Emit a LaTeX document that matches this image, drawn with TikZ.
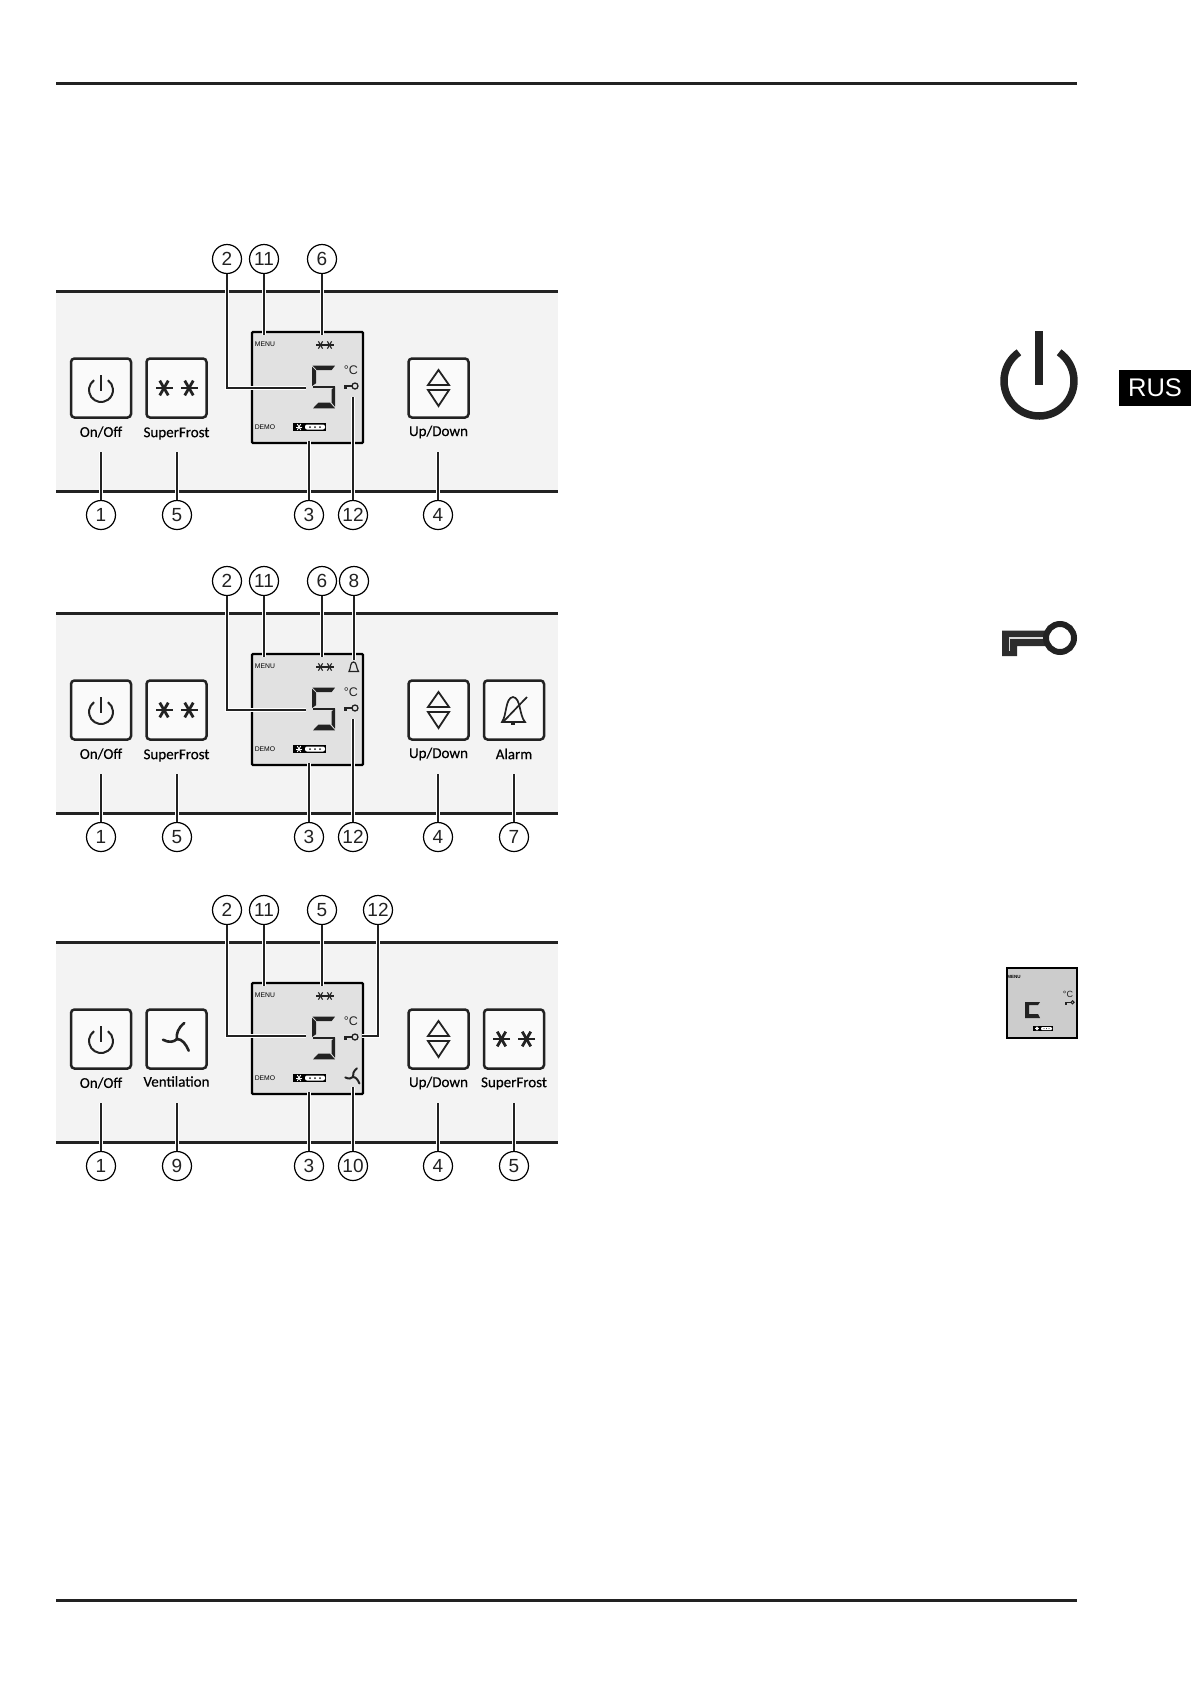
\documentclass[tikz,border=0pt]{standalone}
\usepackage{fontspec}
\setmainfont{Liberation Sans}
\newfontfamily\lblfont[FakeBold=0.35]{Carlito}
\definecolor{panelfill}{HTML}{F3F3F3}
\definecolor{lcdfill}{HTML}{E1E1E1}
\definecolor{ink}{HTML}{222222}
\definecolor{btnfill}{HTML}{FAFAFA}
\tikzset{
  rulebar/.style={line width=3pt,draw=ink},
  panelbar/.style={line width=3pt,draw=ink},
  numcirc/.style={circle,draw=black,line width=1.2pt,minimum size=29pt,inner sep=0pt,fill=white,text=ink,font=\fontsize{19}{19}\selectfont},
  leader/.style={draw=ink,line width=1.4pt,preaction={draw=white,line width=4pt}},
  btnbox/.style={rectangle,draw=ink,line width=2.5pt,rounded corners=3.5pt,minimum width=60pt,minimum height=59pt,inner sep=0pt,fill=btnfill},
  lcdbox/.style={rectangle,draw=black,line width=2.2pt,rounded corners=1pt,minimum width=111pt,minimum height=111pt,inner sep=0pt,fill=lcdfill},
  btnlabel/.style={inner sep=0pt,text=black,font=\lblfont\fontsize{15}{15}\selectfont},
  lcdtext/.style={inner sep=0pt,text=black,font=\fontsize{6.8}{7}\selectfont},
  icon/.style={draw=ink,line width=1.8pt},
  lcdseg/.style={fill=ink,draw=none}
}
% local helper macros
\newcommand{\numcall}[4]{\node[numcirc] (#1) at (#2,#3) {#4};}
\newcommand{\snowic}[5]{\foreach \aa in {0,60,120}{\draw[draw=#5,line width=#4pt] (#1,#2) ++(\aa:#3pt) -- ++(\aa+180:2*#3pt);}}
\newcommand{\powericon}[6]{\draw[draw=ink,line width=#4pt] (#1,#2) ++(125:#3pt) arc (125:415:#3pt);
  \draw[draw=ink,line width=#6pt] (#1,#2-#3-#5) -- (#1,#2+#5/3);}
\newcommand{\updown}[2]{%
  \draw[icon,line join=miter] (#1,#2-18) -- (#1+10.5,#2-3) -- (#1-10.5,#2-3) -- cycle;
  \draw[icon,line join=miter] (#1,#2+18) -- (#1+10.5,#2+2) -- (#1-10.5,#2+2) -- cycle;}
\newcommand{\fanic}[4]{\begin{scope}[shift={(#1,#2)},scale=#3]
  \draw[draw=ink,line width=#4pt,line cap=round] (-14,.7) .. controls (-8,4) and (-3,3) .. (0,0);
  \draw[draw=ink,line width=#4pt,line cap=round] (7.3,-16) .. controls (1,-11) and (-1,-5) .. (0,0);
  \draw[draw=ink,line width=#4pt,line cap=round] (11.7,11.7) .. controls (9,5) and (5,0) .. (0,0);
  \end{scope}}
% LCD contents, in the local coordinates of panel 1
\newcommand{\lcdcontent}{%
  \node[lcdtext] (menutext) at (265,344.5) {MENU};
  \node[lcdtext] (demotext) at (265,427) {DEMO};
  \snowic{320.5}{345}{4.2}{1.1}{ink}
  \snowic{329.5}{345}{4.2}{1.1}{ink}
  % digit 5
  \fill[lcdseg] (312.7,365.7) -- (335,365.7) -- (331.7,370) -- (316.7,370) -- cycle;
  \fill[lcdseg] (312,366.7) -- (316,370.7) -- (316,383.3) -- (312,386) -- cycle;
  \fill[lcdseg] (313,386) -- (335,386) -- (335,387.6) -- (313,387.6) -- cycle;
  \fill[lcdseg] (335,386.7) -- (335,406.7) -- (331.7,402.7) -- (331.7,389.3) -- cycle;
  \fill[lcdseg] (313,408.3) -- (335,408.3) -- (330,402.7) -- (318.3,402.7) -- cycle;
  % battery
  \fill[black] (293,423) rectangle (326,431);
  \snowic{299}{427}{3.4}{.9}{white}
  \fill[white,rounded corners=2pt] (305,424.5) rectangle (325,429.5);
  \fill[ink] (310,427) circle[radius=1pt] (315,427) circle[radius=1pt] (320,427) circle[radius=1pt];
  % degree C
  \node[inner sep=0pt,text=ink,font=\fontsize{12.5}{13}\selectfont] (degc) at (351,370) {°C};
}
\newcommand{\lcdkey}[3]{%
  \draw[draw=ink,line width=1.3pt] (#1+11,#2) circle[radius=#3pt];
  \fill[ink] (#1,#2-1.5) rectangle (#1+8.5,#2+.5);
  \fill[ink] (#1,#2-1.5) rectangle (#1+3,#2+3);
}
\newcommand{\commonpanel}[1]{%
  \fill[panelfill] (56,291) rectangle (558,491);
  \draw[panelbar] (56,291) -- (558,291);
  \draw[panelbar] (56,491) -- (558,491);
  \node[btnbox] (#1onbtn) at (101,388) {};
  \node[btnlabel] (#1onlbl) at (101,432) {On/Off};
  \powericon{101}{390}{12}{2}{3}{2}
  \node[btnbox] (#1updown) at (438.5,388) {};
  \node[btnlabel] (#1uplbl) at (438.5,432) {Up/Down};
  \updown{438.5}{388}
  \node[lcdbox] (#1lcd) at (307.5,387.5) {};
  \lcdcontent
  \lcdkey{344}{386}{3}
}
\begin{document}
\begin{tikzpicture}[x=1pt,y=-1pt]
\useasboundingbox (0,0) rectangle (1191,1684);
\fill[white] (0,0) rectangle (1191,1684);
\coordinate (rtl) at (56,83); \coordinate (rtr) at (1077,83);
\coordinate (rbl) at (56,1600); \coordinate (rbr) at (1077,1600);
\draw[rulebar] (rtl) -- (rtr);
\draw[rulebar] (rbl) -- (rbr);

% ---------- panel 1
\begin{scope}
\commonpanel{a}
\node[btnbox] (asf) at (176.5,388) {};
\node[btnlabel] (asflbl) at (176.5,433.5) {SuperFrost};
\snowic{164}{388}{8.5}{2.8}{ink}\snowic{189}{388}{8.5}{2.8}{ink}
\numcall{a2}{227}{259}{2}\numcall{a11}{264}{259}{11}\numcall{a6}{322}{259}{6}
\numcall{a1}{101}{515}{1}\numcall{a5}{177}{515}{5}\numcall{a3}{309}{515}{3}\numcall{a12}{353}{515}{12}\numcall{a4}{438}{515}{4}
\coordinate (ae2) at (306,388); \coordinate (ae11) at (264,335); \coordinate (ae6) at (322,335);
\coordinate (ae1) at (101,452); \coordinate (ae5) at (177,452); \coordinate (ae3) at (309,441);
\coordinate (ae12) at (353,397); \coordinate (ae4) at (438,452);
\draw[leader] (a2.south) |- (ae2);
\draw[leader] (a11.south) -- (ae11);
\draw[leader] (a6.south) -- (ae6);
\draw[leader] (a1.north) -- (ae1);
\draw[leader] (a5.north) -- (ae5);
\draw[leader] (a3.north) -- (ae3);
\draw[leader] (a12.north) -- (ae12);
\draw[leader] (a4.north) -- (ae4);
\end{scope}

% ---------- panel 2
\begin{scope}[shift={(0,322)}]
\commonpanel{b}
\node[btnbox] (bsf) at (176.5,388) {};
\node[btnlabel] (bsflbl) at (176.5,433.5) {SuperFrost};
\snowic{164}{388}{8.5}{2.8}{ink}\snowic{189}{388}{8.5}{2.8}{ink}
\node[btnbox] (balarm) at (514,388) {};
\node[btnlabel] (balbl) at (514,432) {Alarm};
\draw[icon,line width=1.7pt] (502,400) .. controls (507,393) and (505,376) .. (513,375) .. controls (521,376) and (519,393) .. (525,400) -- cycle;
\fill[ink] (511,400) rectangle (515,402.5);
\draw[icon,line width=1.7pt] (527,375) -- (503,400);
\draw[draw=ink,line width=1.2pt] (349,349.5) .. controls (351,346) and (350,340) .. (353.5,340) .. controls (357,340) and (356,346) .. (358.5,349.5) -- cycle;
\numcall{b2}{227}{259}{2}\numcall{b11}{264}{259}{11}\numcall{b6}{322}{259}{6}\numcall{b8}{354}{259}{8}
\numcall{b1}{101}{515}{1}\numcall{b5}{177}{515}{5}\numcall{b3}{309}{515}{3}\numcall{b12}{353}{515}{12}\numcall{b4}{438}{515}{4}\numcall{b7}{514}{515}{7}
\coordinate (be2) at (306,388); \coordinate (be11) at (264,335); \coordinate (be6) at (322,335); \coordinate (be8) at (354,338);
\coordinate (be1) at (101,452); \coordinate (be5) at (177,452); \coordinate (be3) at (309,441);
\coordinate (be12) at (353,397); \coordinate (be4) at (438,452); \coordinate (be7) at (514,452);
\draw[leader] (b2.south) |- (be2);
\draw[leader] (b11.south) -- (be11);
\draw[leader] (b6.south) -- (be6);
\draw[leader] (b8.south) -- (be8);
\draw[leader] (b1.north) -- (be1);
\draw[leader] (b5.north) -- (be5);
\draw[leader] (b3.north) -- (be3);
\draw[leader] (b12.north) -- (be12);
\draw[leader] (b4.north) -- (be4);
\draw[leader] (b7.north) -- (be7);
\end{scope}

% ---------- panel 3
\begin{scope}[shift={(0,651)}]
\commonpanel{c}
\node[btnbox] (cvent) at (176.5,388) {};
\node[btnlabel] (cvlbl) at (176.5,430.5) {Ventilation};
\fanic{177}{388}{1}{2.6}
\fanic{353}{426}{.55}{2}
\node[btnbox] (csf) at (514,388) {};
\node[btnlabel] (csflbl) at (514,432.5) {SuperFrost};
\snowic{501.5}{388}{8.5}{2.8}{ink}\snowic{526.5}{388}{8.5}{2.8}{ink}
\numcall{c2}{227}{259}{2}\numcall{c11}{264}{259}{11}\numcall{c5t}{322}{259}{5}\numcall{c12}{378}{259}{12}
\numcall{c1}{101}{515}{1}\numcall{c9}{177}{515}{9}\numcall{c3}{309}{515}{3}\numcall{c10}{353}{515}{10}\numcall{c4}{438}{515}{4}\numcall{c5}{514}{515}{5}
\coordinate (ce2) at (306,385); \coordinate (ce11) at (264,335); \coordinate (ce6) at (322,335); \coordinate (ce12) at (362,385);
\coordinate (ce1) at (101,452); \coordinate (ce9) at (177,452); \coordinate (ce3) at (309,441);
\coordinate (ce10) at (353,436); \coordinate (ce4) at (438,452); \coordinate (ce5) at (514,452);
\draw[leader] (c2.south) |- (ce2);
\draw[leader] (c11.south) -- (ce11);
\draw[leader] (c5t.south) -- (ce6);
\draw[leader] (c12.south) |- (ce12);
\draw[leader] (c1.north) -- (ce1);
\draw[leader] (c9.north) -- (ce9);
\draw[leader] (c3.north) -- (ce3);
\draw[leader] (c10.north) -- (ce10);
\draw[leader] (c4.north) -- (ce4);
\draw[leader] (c5.north) -- (ce5);
\end{scope}

% ---------- right column
\draw[draw=ink,line width=7.5pt] (1039,381) ++(125:35pt) arc (125:415:35pt);
\draw[draw=ink,line width=8pt] (1039,331) -- (1039,385);
\fill[black] (1119,370) rectangle (1191,406);
\node[inner sep=0pt,text=white,font=\fontsize{25.5}{28}\selectfont] (rus) at (1155,388) {RUS};
% key icon
\fill[fill=ink!95] (1002,630.5) -- (1050,630.5) -- (1050,646) -- (1017,646) -- (1017,656) -- (1002,656) -- cycle;
\draw[draw=white!85!black,line width=1.6pt] (1050,638) -- (1009.5,638) -- (1009.5,651);
\draw[draw=ink,line width=6pt,fill=white] (1060,638) circle[radius=14pt];
% small display
\node[rectangle,draw=black,line width=2pt,fill=black!20,minimum width=70pt,minimum height=70pt,inner sep=0pt] (minilcd) at (1041.5,1002.5) {};
\node[inner sep=0pt,text=black,font=\bfseries\fontsize{4.5}{5}\selectfont] (minimenu) at (1014,977) {MENU};
\node[inner sep=0pt,text=ink,font=\fontsize{9}{9}\selectfont] (minideg) at (1068,994) {°C};
\fill[ink] (1065,1001.5) rectangle (1071,1003.2);
\fill[ink] (1065,1001.5) rectangle (1067,1004.5);
\draw[draw=ink,line width=1pt] (1072.5,1002.3) circle[radius=1.6pt];
\fill[ink] (1025,1002) -- (1040,1002) -- (1038,1005) -- (1029,1005) -- (1029,1014) -- (1038,1014) -- (1040,1018) -- (1025,1018) -- cycle;
\fill[black] (1033,1026) rectangle (1053,1031);
\snowic{1037}{1028.5}{2}{.7}{white}
\fill[white,rounded corners=1pt] (1041,1027) rectangle (1052,1030);
\fill[ink] (1044,1028.5) circle[radius=.5pt] (1046.5,1028.5) circle[radius=.5pt] (1049,1028.5) circle[radius=.5pt];
\end{tikzpicture}
\end{document}
